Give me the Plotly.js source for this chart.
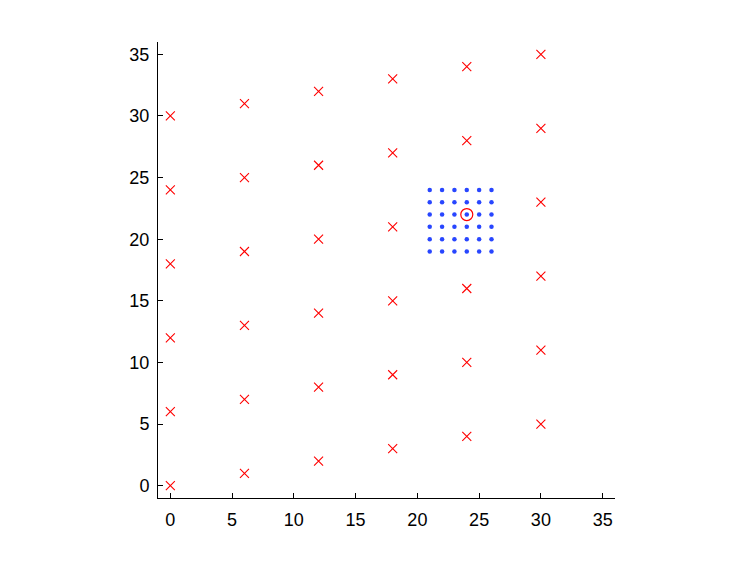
<!DOCTYPE html>
<html>
<head>
<meta charset="utf-8">
<script src="https://cdn.plot.ly/plotly-3.0.1.min.js"></script>
<style>
  html, body { margin: 0; padding: 0; background: #fff; }
  #chart { width: 747px; height: 562px; }
</style>
</head>
<body>
<div id="chart"></div>
<script>
// pontos vermelhos (x) da rede
const redX = [0, 0, 0, 0, 0, 0,
              6, 6, 6, 6, 6, 6,
              12, 12, 12, 12, 12, 12,
              18, 18, 18, 18, 18, 18,
              24, 24, 24, 24, 24,
              30, 30, 30, 30, 30, 30];
const redY = [0, 6, 12, 18, 24, 30,
              1, 7, 13, 19, 25, 31,
              2, 8, 14, 20, 26, 32,
              3, 9, 15, 21, 27, 33,
              4, 10, 16, 28, 34,
              5, 11, 17, 23, 29, 35];

// grade de pontos azuis
const gridX = [21, 22, 23, 24, 25, 26];
const gridY = [19, 20, 21, 22, 23, 24];

// ponto destacado
const circX = [24];
const circY = [22];

const blueX = [];
const blueY = [];
for (const gy of gridY) {
    for (const gx of gridX) {
        blueX.push(gx);
        blueY.push(gy);
    }
}

const axisBase = {
    range: [-1, 36],
    showgrid: false,
    zeroline: false,
    showline: true,
    linecolor: "#000",
    linewidth: 1,
    ticks: "inside",
    ticklen: 5,
    tickcolor: "#000",
    tickwidth: 1,
    tickvals: [0, 5, 10, 15, 20, 25, 30, 35],
    tickfont: { family: "Liberation Sans, Arial, sans-serif", size: 18, color: "#000" }
};

Plotly.newPlot("chart", [
    {
        x: redX, y: redY, type: "scatter", mode: "markers",
        marker: { symbol: "x-thin", size: 9, color: "rgb(255,0,0)", line: { color: "rgb(255,0,0)", width: 1.1 } },
        hoverinfo: "none"
    },
    {
        x: blueX, y: blueY, type: "scatter", mode: "markers",
        marker: { symbol: "circle", size: 4.5, color: "#2846ff" },
        hoverinfo: "none"
    },
    {
        x: circX, y: circY, type: "scatter", mode: "markers",
        marker: { symbol: "circle-open", size: 12, color: "rgb(255,0,0)", line: { color: "rgb(255,0,0)", width: 1.2 } },
        hoverinfo: "none"
    }
], {
    width: 747,
    height: 562,
    margin: { l: 158, r: 132, t: 42, b: 64 },
    showlegend: false,
    paper_bgcolor: "#fff",
    plot_bgcolor: "#fff",
    xaxis: { ...axisBase, ticklabelstandoff: 5 },
    yaxis: { ...axisBase, ticklabelstandoff: 4 }
}, { displayModeBar: false, staticPlot: true });
</script>
</body>
</html>
